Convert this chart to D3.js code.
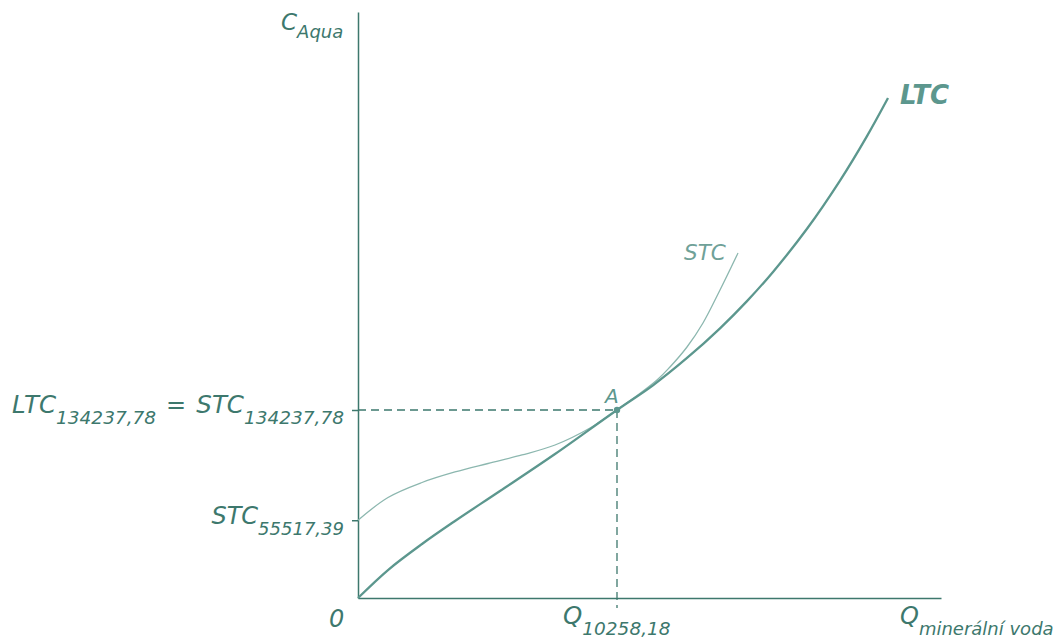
<!DOCTYPE html>
<html><head><meta charset="utf-8">
<script src="https://cdn.jsdelivr.net/npm/d3@7"></script>
<style>
body{margin:0;background:#fff}
svg{display:block}
text{font-family:"DejaVu Sans",Verdana,sans-serif;font-style:italic;fill:#3d786d}
</style>
</head><body>
<svg width="1063" height="640"></svg>
<script>
// ---- data (quantity Q, cost C) ----
const ltcQ = [0, 1188, 2535, 3842, 5624, 7803, 10258.18, 11684, 13031, 14338, 15407, 16437, 17784, 19091, 20160, 20992];
const ltcC = [0, 19990, 38560, 54980, 76400, 102820, 134237.78, 151870, 171370, 192570, 212000, 232850, 263620, 298040, 329810, 357015];
const stcQ = [0, 1188, 2535, 3842, 5149, 6496, 7803, 9189, 10258.18, 11842, 12357, 13031, 13664, 14338, 15051];
const stcC = [55517.39, 71760, 82470, 89970, 96040, 102110, 109250, 121390, 134237.78, 155660, 164940, 179220, 196360, 219920, 246340];
const qStar = 10258.18;
const cStar = 134237.78;
const stcFixed = 55517.39;
const yTickValues = [stcFixed, cStar];
const xTickValues = [qStar];
const yTickLabels = [["STC", "55517,39"], ["STC", "134237,78"]];
const xTickLabel = ["Q", "10258,18"];
const yAxisTitle = ["C", "Aqua"];
const xAxisTitle = ["Q", "minerální voda"];
const originLabel = "0";
const ltcLabel = "LTC";
const stcLabel = "STC";
const pointLabel = "A";
const leftEqLabel = ["LTC", "134237,78"];

const ltcData = ltcQ.map((q, i) => [q, ltcC[i]]);
const stcData = stcQ.map((q, i) => [q, stcC[i]]);

const axisCol = "#3d786d", lineCol = "#5c978e", stcCol = "#8cb7af";
const svg = d3.select("svg");
const x = d3.scaleLinear().domain([0, 23091]).range([358, 941]);
const y = d3.scaleLinear().domain([0, 418420]).range([598, 12]);

// dashed guide lines
svg.append("line").attr("x1", x(0)).attr("x2", x(qStar)).attr("y1", y(cStar)).attr("y2", y(cStar))
  .attr("stroke", axisCol).attr("stroke-width", 1.3).attr("stroke-dasharray", "8,5");
svg.append("line").attr("x1", x(qStar)).attr("x2", x(qStar)).attr("y1", y(cStar)).attr("y2", y(0) + 10)
  .attr("stroke", axisCol).attr("stroke-width", 1.3).attr("stroke-dasharray", "8,5");

// axes
const ya = svg.append("g").attr("transform", `translate(${x(0)},0)`)
  .call(d3.axisLeft(y).tickValues(yTickValues).tickSize(6).tickSizeOuter(0).tickFormat(""));
const xa = svg.append("g").attr("transform", `translate(0,${y(0)})`)
  .call(d3.axisBottom(x).tickValues([]).tickSizeOuter(0));
[ya, xa].forEach(g => {
  g.selectAll("path,line").attr("stroke", axisCol).attr("stroke-width", 1.5);
});

// curves
const line = d3.line().x(d => x(d[0])).y(d => y(d[1])).curve(d3.curveCatmullRom.alpha(0.5));
svg.append("path").datum(stcData).attr("d", line).attr("fill", "none")
  .attr("stroke", stcCol).attr("stroke-width", 1.3);
svg.append("path").datum(ltcData).attr("d", line).attr("fill", "none")
  .attr("stroke", lineCol).attr("stroke-width", 2.3);

// point A
svg.append("circle").attr("cx", x(qStar)).attr("cy", y(cStar)).attr("r", 3.2).attr("fill", lineCol);

// helper for main + subscript labels
function subLabel(px, py, parts, mainSize, subSize, anchor, dy) {
  const t = svg.append("text").attr("x", px).attr("y", py).attr("text-anchor", anchor || "start");
  t.append("tspan").attr("font-size", mainSize).text(parts[0]);
  t.append("tspan").attr("font-size", subSize).attr("dy", dy).text(parts[1]);
  return t;
}

// y tick labels
subLabel(12, y(cStar) + 3, leftEqLabel, 24.5, 18.5, "start", 11);
svg.append("text").attr("x", 166).attr("y", y(cStar) + 3).attr("font-size", 24).text("=");
subLabel(344, y(cStar) + 3, yTickLabels[1], 24.5, 18.5, "end", 11);
subLabel(344, y(stcFixed) + 4, yTickLabels[0], 24, 18, "end", 11);

// axis titles
subLabel(281, 30, yAxisTitle, 23, 18, "start", 8);
subLabel(900, 624, xAxisTitle, 24, 18, "start", 11);
subLabel(563, 624, xTickLabel, 24.5, 18.5, "start", 11);
svg.append("text").attr("x", 329).attr("y", 627).attr("font-size", 24).text(originLabel);

// curve labels
svg.append("text").attr("x", 900).attr("y", 104).attr("font-size", 26).attr("font-weight", "bold")
  .style("fill", lineCol).text(ltcLabel);
svg.append("text").attr("x", 684).attr("y", 260).attr("font-size", 21.5)
  .style("fill", "#6fa198").text(stcLabel);
svg.append("text").attr("x", 605).attr("y", 403).attr("font-size", 20)
  .style("fill", lineCol).text(pointLabel);
</script>
</body></html>
